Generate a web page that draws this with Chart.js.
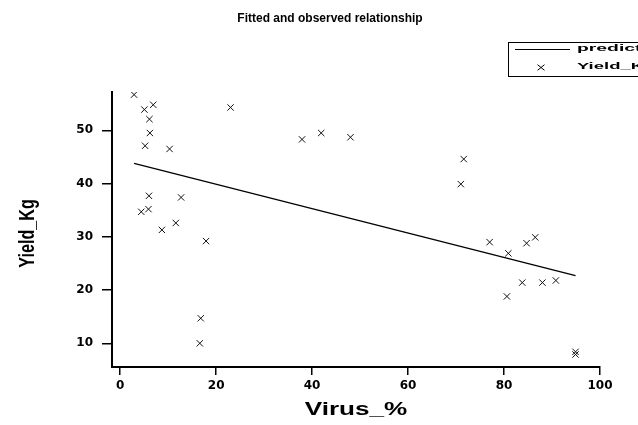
<!DOCTYPE html>
<html>
<head>
<meta charset="utf-8">
<script src="https://cdn.jsdelivr.net/npm/chart.js@4"></script>
<style>
html,body{margin:0;padding:0;background:#fff;}
canvas{display:block;}
</style>
</head>
<body>
<canvas id="c" width="638" height="425"></canvas>
<script>
const chartTitle = "Fitted and observed relationship";
const xTitle = "Virus_%";
const yTitle = "Yield_Kg";
const legendLabels = ["predicted", "Yield_Kg"];

// observed points (Virus_%, Yield_Kg)
const virusPct = [2.9, 6.9, 5.05, 6.1, 6.2, 5.2, 10.3, 23.0,
  6.0, 12.7, 5.9, 4.4, 11.6, 8.7, 17.9, 16.8, 16.6,
  37.9, 41.9, 48.0,
  71.6, 71.0, 77.0, 80.9, 84.7, 86.5,
  83.8, 88.0, 90.8, 80.6, 94.9, 94.9];
const yieldKg = [56.7, 54.8, 53.9, 52.1, 49.5, 47.1, 46.5, 54.3,
  37.7, 37.4, 35.2, 34.7, 32.6, 31.3, 29.2, 14.7, 10.0,
  48.3, 49.5, 48.7,
  44.6, 39.9, 29.0, 26.9, 28.8, 29.9,
  21.4, 21.4, 21.8, 18.8, 8.4, 7.9];

// fitted line end points
const predX = [2.9, 94.9];
const predY = [43.8, 22.7];

const xTicks = [0, 20, 40, 60, 80, 100];
const yTicks = [10, 20, 30, 40, 50];

const FONT = "'Liberation Sans', Arial, Helvetica, sans-serif";
const TICKFONT = "'DejaVu Sans', 'Liberation Sans', sans-serif";

const obsData = virusPct.map((v, i) => ({x: v, y: yieldKg[i]}));
const predData = predX.map((v, i) => ({x: v, y: predY[i]}));

function stretchedText(ctx, text, x, y, sx, sy, rot) {
  ctx.save();
  ctx.translate(x, y);
  if (rot) ctx.rotate(rot);
  ctx.scale(sx, sy);
  ctx.fillText(text, 0, 0);
  ctx.restore();
}

const overlay = {
  id: 'overlay',
  afterDraw(chart) {
    const ctx = chart.ctx;
    const area = chart.chartArea;
    ctx.save();
    ctx.fillStyle = '#000';
    ctx.textBaseline = 'middle';
    ctx.textAlign = 'center';
    // main title
    ctx.font = 'bold 12px ' + FONT;
    stretchedText(ctx, chartTitle, 330, 18, 1, 1.1, 0);
    // x title
    ctx.font = 'bold 18px ' + FONT;
    stretchedText(ctx, xTitle, (area.left + area.right) / 2, 410, 1.45, 1, 0);
    // y title
    ctx.font = 'bold 17px ' + FONT;
    stretchedText(ctx, yTitle, 28, (area.top + area.bottom) / 2 + 4, 0.95, 1.35, -Math.PI / 2);

    // legend
    ctx.strokeStyle = '#000';
    ctx.lineWidth = 1;
    ctx.strokeRect(508.5, 42.5, 160, 34);
    ctx.beginPath();
    ctx.moveTo(515, 49.5);
    ctx.lineTo(570, 49.5);
    ctx.stroke();
    const cx = 541, cy = 67.5, r = 3.5;
    ctx.beginPath();
    ctx.moveTo(cx - r, cy - r * 0.8); ctx.lineTo(cx + r, cy + r * 0.8);
    ctx.moveTo(cx - r, cy + r * 0.8); ctx.lineTo(cx + r, cy - r * 0.8);
    ctx.stroke();
    ctx.font = 'bold 9px ' + FONT;
    ctx.textAlign = 'left';
    stretchedText(ctx, legendLabels[0], 577, 49, 2.15, 1, 0);
    stretchedText(ctx, legendLabels[1], 577, 67, 2.05, 1, 0);
    ctx.restore();
  }
};

new Chart(document.getElementById('c'), {
  type: 'scatter',
  data: {
    datasets: [
      {
        label: legendLabels[0],
        type: 'line',
        data: predData,
        showLine: true,
        borderColor: '#000',
        borderWidth: 1.3,
        pointRadius: 0,
        fill: false
      },
      {
        label: legendLabels[1],
        data: obsData,
        pointStyle: 'crossRot',
        pointRadius: 4.5,
        borderColor: '#111',
        borderWidth: 1,
        backgroundColor: '#111'
      }
    ]
  },
  options: {
    responsive: false,
    animation: false,
    layout: {padding: {top: 92, right: 38, left: 0, bottom: 0}},
    plugins: {legend: {display: false}, title: {display: false}, tooltip: {enabled: false}},
    scales: {
      x: {
        type: 'linear',
        min: -1.7,
        max: 100,
        afterBuildTicks: s => { s.ticks = xTicks.map(v => ({value: v})); },
        afterFit: s => { s.height = 58; },
        grid: {drawOnChartArea: false, drawTicks: true, tickLength: 8, color: '#000', lineWidth: 1.5},
        border: {display: true, color: '#000', width: 2},
        ticks: {color: '#000', font: {family: TICKFONT, size: 12, weight: 'bold'}, padding: 4, maxRotation: 0},
        title: {display: false}
      },
      y: {
        type: 'linear',
        min: 5.55,
        max: 57.2,
        afterBuildTicks: s => { s.ticks = yTicks.map(v => ({value: v})); },
        afterFit: s => { s.width = 112; },
        grid: {drawOnChartArea: false, drawTicks: true, tickLength: 10, color: '#000', lineWidth: 1.5},
        border: {display: true, color: '#000', width: 2},
        ticks: {color: '#000', font: {family: TICKFONT, size: 12, weight: 'bold'}, padding: 9},
        title: {display: false}
      }
    }
  },
  plugins: [overlay]
});
</script>
</body>
</html>
